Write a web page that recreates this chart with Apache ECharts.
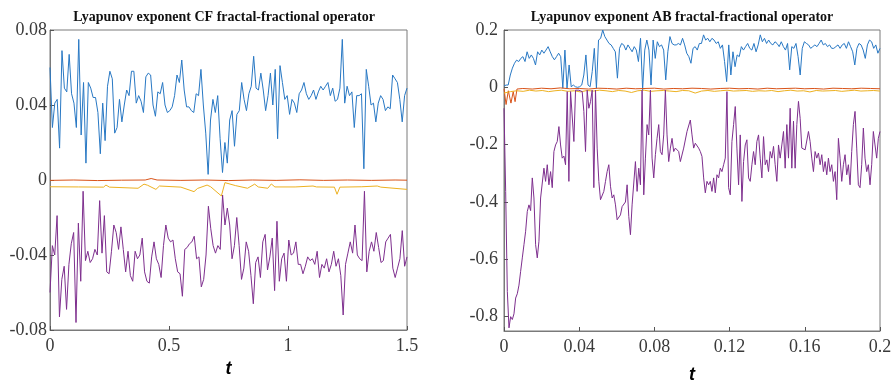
<!DOCTYPE html>
<html>
<head>
<meta charset="utf-8">
<script src="https://cdn.jsdelivr.net/npm/echarts@6/dist/echarts.min.js"></script>
<style>html,body{margin:0;padding:0;background:#fff}#c{width:894px;height:384px}</style>
</head>
<body>
<div id="c"></div>
<script>
// ---------- Left panel: CF fractal-fractional operator, t in [0, 1.5] ----------
var cfTMax = 1.5;
var cfBlue = [0.060,0.028,0.041,0.043,0.017,0.069,0.049,0.047,0.067,0.046,0.041,0.028,0.075,0.024,0.052,0.009,0.052,0.049,0.044,0.044,0.036,0.014,0.041,0.021,0.050,0.058,0.054,0.025,0.028,0.043,0.031,0.040,0.048,0.045,0.058,0.058,0.041,0.045,0.042,0.036,0.055,0.057,0.056,0.040,0.034,0.047,0.046,0.052,0.040,0.036,0.037,0.039,0.045,0.056,0.052,0.064,0.048,0.039,0.039,0.037,0.036,0.046,0.045,0.059,0.040,0.025,0.003,0.032,0.043,0.036,0.045,0.022,0.004,0.020,0.009,0.032,0.037,0.018,0.035,0.037,0.052,0.043,0.037,0.046,0.050,0.066,0.049,0.048,0.057,0.048,0.037,0.045,0.057,0.040,0.059,0.022,0.061,0.052,0.043,0.045,0.035,0.043,0.041,0.036,0.046,0.048,0.052,0.046,0.043,0.045,0.048,0.043,0.047,0.050,0.048,0.050,0.052,0.045,0.049,0.042,0.043,0.049,0.075,0.041,0.050,0.045,0.047,0.028,0.045,0.045,0.046,0.006,0.059,0.050,0.040,0.041,0.031,0.041,0.045,0.043,0.037,0.039,0.038,0.056,0.054,0.052,0.043,0.031,0.045,0.049];
var cfPurple = [-0.060,-0.035,-0.040,-0.019,-0.073,-0.053,-0.046,-0.069,-0.045,-0.034,-0.028,-0.076,-0.023,-0.054,-0.006,-0.043,-0.038,-0.044,-0.042,-0.037,-0.040,-0.011,-0.039,-0.019,-0.049,-0.050,-0.038,-0.024,-0.028,-0.037,-0.025,-0.037,-0.049,-0.038,-0.051,-0.054,-0.038,-0.042,-0.040,-0.031,-0.049,-0.054,-0.055,-0.041,-0.033,-0.042,-0.045,-0.052,-0.035,-0.024,-0.031,-0.033,-0.032,-0.042,-0.049,-0.050,-0.062,-0.037,-0.036,-0.034,-0.033,-0.030,-0.042,-0.041,-0.057,-0.053,-0.040,-0.014,-0.026,-0.035,-0.039,-0.035,-0.037,-0.008,-0.024,-0.015,-0.024,-0.042,-0.035,-0.020,-0.035,-0.053,-0.047,-0.033,-0.038,-0.051,-0.066,-0.044,-0.041,-0.052,-0.033,-0.029,-0.048,-0.041,-0.031,-0.059,-0.022,-0.054,-0.042,-0.039,-0.054,-0.032,-0.040,-0.039,-0.033,-0.045,-0.045,-0.050,-0.046,-0.041,-0.043,-0.042,-0.045,-0.038,-0.052,-0.045,-0.047,-0.042,-0.049,-0.045,-0.038,-0.046,-0.042,-0.051,-0.072,-0.045,-0.039,-0.033,-0.039,-0.024,-0.040,-0.042,-0.043,-0.006,-0.049,-0.038,-0.033,-0.038,-0.028,-0.036,-0.044,-0.043,-0.033,-0.031,-0.029,-0.047,-0.052,-0.047,-0.042,-0.027,-0.046,-0.041];
var cfRedT = [0,0.1,0.2,0.3,0.4,0.425,0.45,0.55,0.65,0.75,0.85,0.95,1.05,1.15,1.25,1.35,1.45,1.5];
var cfRed  = [-0.0002,0,-0.0003,-0.0001,0,0.0008,0,-0.0002,0,-0.0003,0,-0.0002,0.0001,-0.0002,0,-0.0002,0,-0.0001];
var cfYellowT = [0,0.12,0.225,0.235,0.25,0.37,0.395,0.41,0.445,0.46,0.55,0.605,0.62,0.66,0.675,0.72,0.735,0.78,0.83,0.86,0.875,0.915,0.93,0.945,1.03,1.105,1.12,1.195,1.206,1.218,1.31,1.375,1.39,1.5];
var cfYellow  = [-0.0036,-0.0037,-0.0038,-0.0027,-0.0038,-0.0044,-0.0022,-0.0028,-0.0050,-0.0032,-0.0038,-0.0062,-0.0045,-0.0027,-0.0036,-0.0085,-0.0014,-0.0030,-0.0044,-0.0022,-0.0037,-0.0044,-0.0021,-0.0037,-0.0037,-0.0032,-0.0037,-0.0038,-0.0076,-0.0038,-0.0036,-0.0032,-0.0038,-0.0050];
var cfYTicks = [-0.08,-0.04,0,0.04,0.08];

// ---------- Right panel: AB fractal-fractional operator, t in [0, 0.2] ----------
var abTMax = 0.2;
var abBlue = [0.005,0.008,0.008,0.043,0.067,0.084,0.095,0.090,0.101,0.107,0.090,0.124,0.101,0.113,0.101,0.078,0.124,0.113,0.130,0.119,0.130,0.142,0.124,0.107,0.096,0.107,0.119,0.107,-0.003,0.130,-0.003,0.078,0.002,0.008,0.002,0.000,0.002,0.008,0.043,0.113,0.008,0.002,0.055,0.136,-0.003,0.165,0.171,0.200,0.177,0.165,0.153,0.148,0.136,0.124,0.032,0.136,0.153,0.148,0.130,0.148,0.136,0.124,0.142,0.130,0.090,0.171,-0.009,0.130,0.165,0.130,0.008,0.165,0.101,0.159,0.142,0.148,0.130,0.026,0.124,0.177,0.153,0.148,0.148,0.153,0.148,0.171,0.148,0.119,
 0.107,0.084,0.136,0.142,0.130,0.153,0.153,0.183,0.165,0.171,0.159,0.171,0.165,0.153,0.159,0.136,0.148,0.090,0.020,0.148,0.043,0.124,0.072,0.113,0.107,0.142,0.130,0.142,0.153,0.136,0.130,0.153,0.124,0.148,0.183,0.159,0.171,0.153,0.165,0.153,0.148,0.159,0.153,0.142,0.159,0.142,0.130,0.153,0.061,0.142,0.136,0.153,0.107,0.043,0.136,0.159,0.153,0.148,0.136,0.142,0.148,0.142,0.153,0.165,0.148,0.153,0.142,0.148,0.136,0.136,0.142,0.148,0.136,0.148,0.153,0.136,0.159,0.142,0.124,0.078,0.136,0.153,0.148,0.130,0.101,0.148,0.165,0.159,0.136,0.148,0.119,0.136];
var abPurple = [-0.073,-0.363,-0.712,-0.839,-0.800,-0.810,-0.790,-0.735,-0.720,-0.690,-0.642,-0.595,-0.549,-0.502,-0.433,-0.410,-0.430,-0.316,-0.386,-0.549,-0.595,-0.537,-0.386,-0.380,-0.282,-0.328,-0.270,-0.340,-0.294,-0.350,-0.224,-0.201,-0.189,-0.137,-0.201,-0.247,-0.240,-0.270,-0.015,-0.328,-0.015,-0.010,-0.189,-0.010,-0.010,-0.010,-0.010,-0.015,-0.084,-0.224,-0.010,-0.073,-0.050,-0.010,-0.350,-0.010,-0.212,-0.328,-0.392,-0.392,-0.363,-0.328,-0.294,-0.270,-0.345,-0.386,-0.375,-0.410,-0.462,-0.462,-0.445,-0.416,-0.416,-0.400,-0.340,-0.450,-0.514,-0.410,-0.404,-0.259,-0.363,-0.282,-0.340,-0.010,-0.375,-0.247,-0.130,-0.166,-0.010,-0.247,-0.316,-0.235,-0.178,-0.130,-0.224,-0.235,-0.166,-0.010,-0.166,-0.259,-0.212,-0.178,-0.224,-0.212,-0.206,-0.224,-0.259,-0.259,-0.212,-0.206,-0.154,
 -0.154,-0.114,-0.166,-0.212,-0.195,-0.201,-0.212,-0.224,-0.241,-0.316,-0.368,-0.328,-0.340,-0.328,-0.363,-0.316,-0.368,-0.305,-0.316,-0.282,-0.294,-0.270,-0.247,-0.015,-0.350,-0.375,-0.189,-0.130,-0.067,-0.212,-0.340,-0.166,-0.398,-0.259,-0.201,-0.183,-0.316,-0.328,-0.270,-0.224,-0.270,-0.189,-0.166,-0.247,-0.316,-0.172,-0.270,-0.253,-0.294,-0.224,-0.247,-0.206,-0.270,-0.328,-0.201,-0.247,-0.201,-0.154,-0.282,-0.130,-0.247,-0.073,-0.282,-0.118,-0.282,-0.130,-0.049,-0.108,-0.212,-0.212,-0.218,-0.224,-0.154,-0.189,-0.247,-0.294,-0.224,-0.247,-0.229,-0.270,-0.235,-0.294,-0.259,-0.305,-0.247,-0.294,-0.270,-0.328,-0.294,-0.392,-0.178,-0.247,-0.328,-0.270,-0.235,-0.305,-0.270,-0.340,-0.224,-0.130,-0.084,-0.212,-0.340,-0.350,-0.270,-0.142,-0.247,-0.294,-0.270,-0.340,-0.270,-0.154,-0.201,-0.247,-0.178,-0.154];
var abRedT = [0,0.0011,0.0023,0.0037,0.0049,0.0059,0.0069,0.010,0.015,0.020,0.025,0.030,0.035,0.040,0.045,0.050,0.055,0.060,0.065,0.070,0.075,0.080,0.085,0.090,0.095,0.100,0.105,0.110,0.115,0.120,0.125,0.130,0.135,0.140,0.145,0.150,0.155,0.160,0.165,0.170,0.175,0.180,0.185,0.190,0.195,0.200];
var abRed  = [-0.005,-0.060,-0.012,-0.055,-0.015,-0.050,-0.006,-0.004,-0.006,-0.003,-0.005,-0.002,-0.005,-0.004,-0.006,-0.003,-0.004,-0.006,-0.003,-0.005,-0.004,-0.003,-0.006,-0.004,-0.005,-0.003,-0.004,-0.006,-0.004,-0.003,-0.005,-0.004,-0.006,-0.003,-0.005,-0.004,-0.003,-0.005,-0.004,-0.006,-0.003,-0.004,-0.005,-0.003,-0.004,-0.005];
var abYellow = [-0.020,-0.015,-0.012,-0.014,-0.010,-0.013,-0.011,-0.015,-0.012,-0.010,-0.014,-0.012,-0.016,-0.011,-0.013,-0.010,-0.012,-0.015,-0.011,-0.013,-0.018,-0.012,-0.010,-0.014,-0.012,-0.011,-0.013,-0.015,-0.011,-0.012,-0.020,-0.013,-0.011,-0.014,-0.012,-0.010,-0.013,-0.012,-0.011,-0.014,-0.012,-0.013,-0.011,-0.015,-0.012,-0.010,-0.013,-0.012,-0.016,-0.011,-0.013,-0.012,-0.011,-0.014,-0.012,-0.010,-0.013,-0.012,-0.011,-0.013];
var abYTicks = [-0.8,-0.6,-0.4,-0.2,0,0.2];

var titles = ['Lyapunov exponent CF fractal-fractional operator', 'Lyapunov exponent AB fractal-fractional operator'];
var colors = {blue:'#2878C4', red:'#D95319', yellow:'#EDB120', purple:'#7E2F8E'};

function even(vals, tmax){ var n = vals.length; return vals.map(function(v,i){ return [i*tmax/(n-1), v]; }); }
function pairs(ts, vals){ return vals.map(function(v,i){ return [ts[i], v]; }); }
function fmt(v){ return String(+(+v).toFixed(2)); }

var tickFont = {fontFamily:'Liberation Serif', fontSize:18, color:'#3a3a3a'};
var frameColor = '#7a7a7a';

function xAx(idx, max, interval, gap){
  return {gridIndex:idx, type:'value', min:0, max:max, interval:interval,
    axisLine:{show:true, onZero:false, lineStyle:{color:frameColor}}, axisTick:{show:true, inside:true, length:4, lineStyle:{color:'#555'}},
    axisLabel:Object.assign({margin:7, formatter:fmt}, tickFont), splitLine:{show:false},
    name:'t', nameLocation:'middle', nameGap:gap,
    nameTextStyle:{fontFamily:'Liberation Sans', fontStyle:'italic', fontWeight:'bold', fontSize:18, color:'#000'}};
}
function line(xi, data, color){
  return {type:'line', xAxisIndex:xi, yAxisIndex:xi, data:data, showSymbol:false, symbol:'none',
    lineStyle:{width:1, color:color}, itemStyle:{color:color}, animation:false, silent:true};
}

var chart = echarts.init(document.getElementById('c'), null, {renderer:'canvas'});
chart.setOption({
  backgroundColor:'#fff',
  animation:false,
  title:[
    {text:titles[0], left:219, top:5, textAlign:'center', textStyle:{fontFamily:'Liberation Serif', fontWeight:'bold', fontSize:14, color:'#111'}},
    {text:titles[1], left:677, top:5, textAlign:'center', textStyle:{fontFamily:'Liberation Serif', fontWeight:'bold', fontSize:14, color:'#111'}}
  ],
  grid:[
    {left:50, top:30, width:357, height:300, show:true, borderColor:frameColor, borderWidth:1, backgroundColor:'transparent', outerBoundsMode:'none'},
    {left:504, top:30, width:376, height:301, show:true, borderColor:frameColor, borderWidth:1, backgroundColor:'transparent', outerBoundsMode:'none'}
  ],
  xAxis:[ xAx(0, cfTMax, 0.5, 26), xAx(1, abTMax, 0.04, 35) ],
  yAxis:[
    {gridIndex:0, type:'value', min:-0.08, max:0.08, interval:0.04,
      axisLine:{show:true, onZero:false, lineStyle:{color:frameColor}}, axisTick:{show:true, inside:true, length:4, lineStyle:{color:'#555'}},
      axisLabel:Object.assign({margin:3, formatter:fmt}, tickFont), splitLine:{show:false}},
    {gridIndex:1, type:'value', min:-0.85, max:0.2,
      axisLine:{show:true, onZero:false, lineStyle:{color:frameColor}},
      axisTick:{show:true, inside:true, length:4, lineStyle:{color:'#555'}, customValues:abYTicks},
      axisLabel:Object.assign({margin:6, formatter:fmt, customValues:abYTicks}, tickFont), splitLine:{show:false}}
  ],
  series:[
    line(0, even(cfBlue, cfTMax), colors.blue),
    line(0, pairs(cfRedT, cfRed), colors.red),
    line(0, pairs(cfYellowT, cfYellow), colors.yellow),
    line(0, even(cfPurple, cfTMax), colors.purple),
    line(1, even(abBlue, abTMax), colors.blue),
    line(1, pairs(abRedT, abRed), colors.red),
    line(1, even(abYellow, abTMax), colors.yellow),
    line(1, even(abPurple, abTMax), colors.purple)
  ]
});
</script>
</body>
</html>
